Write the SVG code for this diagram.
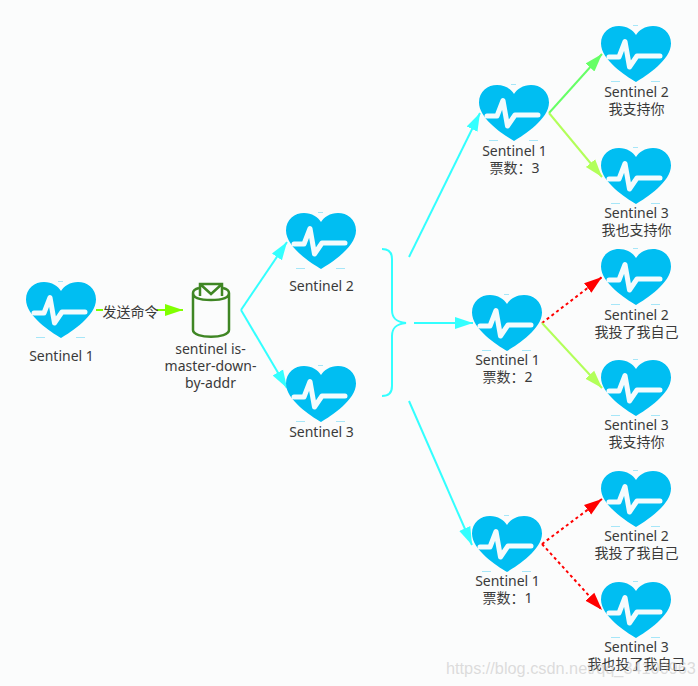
<svg xmlns="http://www.w3.org/2000/svg" width="698" height="686" viewBox="0 0 698 686">
<style>
text{font-family:"Noto Sans","Noto Sans CJK SC",sans-serif;font-size:14px;fill:#3a3a3a;text-anchor:middle}
.c{fill:none;stroke-width:2}
.d{stroke-dasharray:3 3}
.wm{font-family:"Liberation Sans",sans-serif;font-size:16.3px;fill:#bbb;fill-opacity:.5;text-anchor:start}
</style>
<defs>
<g id="heart">
<path d="M35 56C25 50 0 34 0 17.500C0 6 9 0 18 0C26 0 32 4 35 9C38 4 44 0 52 0C61 0 70 6 70 17.500C70 34 45 50 35 56Z" fill="#00bef2"/>
<path d="M8 31H18L24 15.500L28.500 41L36 30H59" fill="none" stroke="#f4fbfd" stroke-width="5" stroke-linecap="round" stroke-linejoin="round"/>
<path d="M10 55.500H19M50 55.500H59M32 -0.500H37" fill="none" stroke="#a6e6f8" stroke-width="1"/>
</g>
<marker id="aCyan" markerUnits="userSpaceOnUse" markerWidth="20" markerHeight="14" refX="18" refY="7" orient="auto"><path d="M0 1L18 7L0 13Z" fill="#33ffff"/></marker>
<marker id="aLime" markerUnits="userSpaceOnUse" markerWidth="20" markerHeight="14" refX="18" refY="7" orient="auto"><path d="M0 1L18 7L0 13Z" fill="#80ff00"/></marker>
<marker id="aG1" markerUnits="userSpaceOnUse" markerWidth="20" markerHeight="14" refX="18" refY="7" orient="auto"><path d="M0 1L18 7L0 13Z" fill="#66ff66"/></marker>
<marker id="aG2" markerUnits="userSpaceOnUse" markerWidth="20" markerHeight="14" refX="18" refY="7" orient="auto"><path d="M0 1L18 7L0 13Z" fill="#b2ff59"/></marker>
<marker id="aRed" markerUnits="userSpaceOnUse" markerWidth="20" markerHeight="14" refX="18" refY="7" orient="auto"><path d="M0 1L18 7L0 13Z" fill="#ff0000"/></marker>
</defs>
<rect width="698" height="686" fill="#fbfcfc"/>
<g id="connectors">
<path class="c" stroke="#80ff00" marker-end="url(#aLime)" d="M96 310H183"/>
<path class="c" stroke="#33ffff" marker-end="url(#aCyan)" d="M241 310L287 242"/>
<path class="c" stroke="#33ffff" marker-end="url(#aCyan)" d="M241 310L287 388"/>
<path class="c" stroke="#33ffff" d="M382 249C389 249 392 252 392 259V310C392 318 396 322 406 323C396 324 392 328 392 336V386C392 393 389 396 382 396"/>
<path class="c" stroke="#33ffff" marker-end="url(#aCyan)" d="M409 257L480 113"/>
<path class="c" stroke="#33ffff" marker-end="url(#aCyan)" d="M414 323H473"/>
<path class="c" stroke="#33ffff" marker-end="url(#aCyan)" d="M409 401L472 545"/>
<path class="c" stroke="#66ff66" marker-end="url(#aG1)" d="M549 113L602 54"/>
<path class="c" stroke="#b2ff59" marker-end="url(#aG2)" d="M549 113L602 177"/>
<path class="c d" stroke="#ff0000" marker-end="url(#aRed)" d="M542 323L602 277"/>
<path class="c" stroke="#b2ff59" marker-end="url(#aG2)" d="M542 323L602 388"/>
<path class="c d" stroke="#ff0000" marker-end="url(#aRed)" d="M542 544L602 499"/>
<path class="c d" stroke="#ff0000" marker-end="url(#aRed)" d="M542 544L602 610"/>
</g>
<g id="edge-label"><rect x="103" y="302" width="54" height="18" fill="#fbfcfc"/><text x="130.500" y="316.500">发送命令</text></g>
<g id="sentinel-1"><use href="#heart" x="26" y="282"/><text x="61.500" y="360.500">Sentinel 1</text></g>
<g id="command">
<path d="M193 293V330C193 339 229 339 229 330V293C229 299 219 300 211 300C203 300 193 299 193 293C193 291 195 289 199 288M229 293C229 291 227 289 223 288" fill="none" stroke="#3f8624" stroke-width="2.500"/>
<path d="M200 296V284H222V296M200 284L211 294L222 284" fill="none" stroke="#3f8624" stroke-width="2.500"/>
<text x="210.500" y="353.500">sentinel is-</text><text x="210.500" y="370.500">master-down-</text><text x="210.500" y="387.500">by-addr</text>
</g>
<g id="n-s2"><use href="#heart" x="286" y="213"/><text x="321.500" y="290.500">Sentinel 2</text></g>
<g id="n-s3"><use href="#heart" x="286" y="366"/><text x="321.500" y="436.500">Sentinel 3</text></g>
<g id="vote-3"><use href="#heart" x="479" y="85"/><text x="514.500" y="155.500">Sentinel 1</text><text x="514.500" y="172.500">票数：3</text></g>
<g id="vote-2"><use href="#heart" x="472" y="295"/><text x="507.500" y="364.500">Sentinel 1</text><text x="507.500" y="381.500">票数：2</text></g>
<g id="vote-1"><use href="#heart" x="472" y="516"/><text x="507.500" y="585.500">Sentinel 1</text><text x="507.500" y="602.500">票数：1</text></g>
<g id="r1"><use href="#heart" x="601" y="26"/><text x="636.500" y="96.500">Sentinel 2</text><text x="636.500" y="113.500">我支持你</text></g>
<g id="r2"><use href="#heart" x="601" y="148"/><text x="636.500" y="217.500">Sentinel 3</text><text x="636.500" y="234.500">我也支持你</text></g>
<g id="r3"><use href="#heart" x="601" y="249"/><text x="636.500" y="319.500">Sentinel 2</text><text x="636.500" y="336.500">我投了我自己</text></g>
<g id="r4"><use href="#heart" x="601" y="360"/><text x="636.500" y="429.500">Sentinel 3</text><text x="636.500" y="446.500">我支持你</text></g>
<g id="r5"><use href="#heart" x="601" y="471"/><text x="636.500" y="540.500">Sentinel 2</text><text x="636.500" y="557.500">我投了我自己</text></g>
<g id="r6"><use href="#heart" x="601" y="582"/><text x="636.500" y="651.500">Sentinel 3</text><text x="636.500" y="668.500">我也投了我自己</text></g>
<text class="wm" x="446" y="674">https://blog.csdn.net/qq_34100963</text>
</svg>
